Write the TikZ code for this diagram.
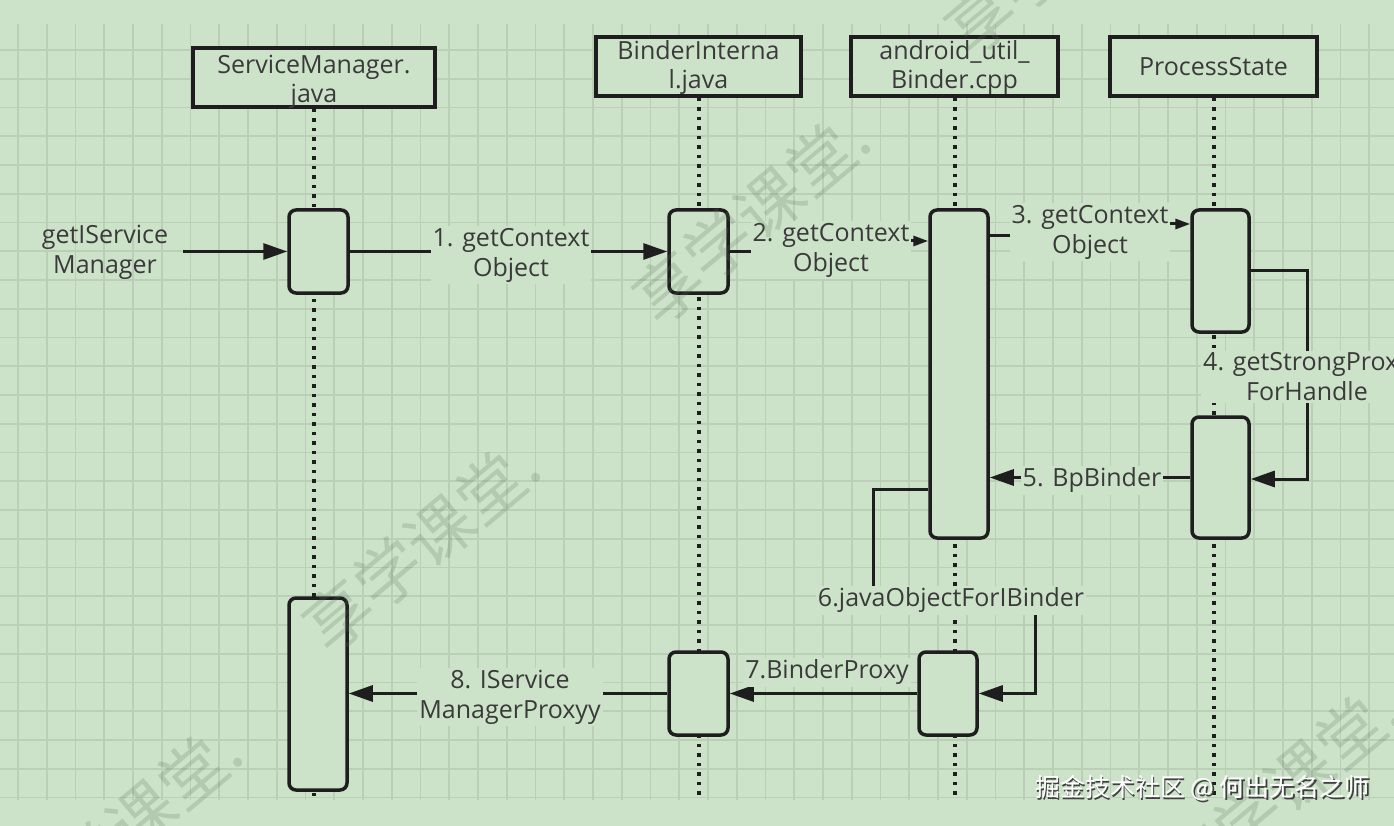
\documentclass[tikz,border=0pt]{standalone}
\usepackage{fontspec}
\setmainfont{Open Sans}
\newfontfamily\cjk{Noto Sans CJK SC}
\usetikzlibrary{arrows.meta,calc}
\definecolor{bg}{RGB}{205,227,201}
\definecolor{gridc}{RGB}{186,207,182}
\definecolor{ink}{RGB}{30,30,30}
\definecolor{txt}{RGB}{58,58,58}
\definecolor{wm}{RGB}{90,110,90}
\begin{document}
\begin{tikzpicture}[x=1pt,y=-1pt,
  hdr/.style={draw=ink,line width=3.5pt,fill=bg,inner sep=0pt},
  act/.style={draw=ink,line width=3.5pt,fill=bg,rounded corners=7pt,inner sep=0pt},
  life/.style={draw=ink,line width=4pt,dash pattern=on 3.5pt off 6pt},
  conn/.style={draw=ink,line width=3pt},
  big/.style={conn,-{Triangle[length=24pt,width=16pt]}},
  small/.style={conn,-{Triangle[length=15pt,width=10pt]}},
  lbl/.style={fill=bg,text=txt,font=\fontsize{25}{30}\selectfont,align=center,inner sep=2pt},
  htxt/.style={text=txt,font=\fontsize{25}{29}\selectfont,align=center,inner sep=0pt},
  wmark/.style={text=wm,text opacity=0.22,font=\cjk\fontsize{66}{66}\selectfont,rotate=40,anchor=west,inner sep=0pt},
  sig/.style={font=\cjk\fontsize{25}{25}\selectfont,inner sep=0pt},
  gline/.style={draw=gridc,line width=1.6pt}
]
\useasboundingbox (0,0) rectangle (1394,826);
\fill[bg] (0,0) rectangle (1394,826);
% grid
\foreach \i in {0,...,47} \draw[gline] ({18+\i*28.75},24) -- ({18+\i*28.75},800);
\foreach \j in {0,...,26} \draw[gline] (0,{50+\j*28.75}) -- (1394,{50+\j*28.75});
\coordinate (bot) at (0,800);
% headers
\node[hdr,minimum width=242pt,minimum height=59pt] (H1) at (314,77.5) {};
\node[hdr,minimum width=205pt,minimum height=59pt] (H2) at (698.5,66.5) {};
\node[hdr,minimum width=207pt,minimum height=59pt] (H3) at (954.5,66.5) {};
\node[hdr,minimum width=207pt,minimum height=59pt] (H4) at (1213.5,66.5) {};
% lifelines
\draw[life] (H1.south) -- (H1.south |- bot);
\draw[life] (H2.south) -- (H2.south |- bot);
\draw[life] (H3.south) -- (H3.south |- bot);
\draw[life] (H4.south) -- (H4.south |- bot);
% header texts
\node[htxt] (T1) at (314,82) {ServiceManager.\\java};
\node[htxt] (T2) at (698.5,68) {BinderInterna\\l.java};
\node[htxt] (T3) at (954.5,68) {android\_util\_\\Binder.cpp};
\node[htxt] (T4) at (1213.5,67) {ProcessState};
% activation boxes
\node[act,minimum width=59pt,minimum height=83pt] (A1) at (318.5,251.5) {};
\node[act,minimum width=59pt,minimum height=83pt] (A2) at (698.5,251.5) {};
\node[act,minimum width=58pt,minimum height=328pt] (A3) at (959,374) {};
\node[act,minimum width=57pt,minimum height=122pt] (A4) at (1220.5,271) {};
\node[act,minimum width=57pt,minimum height=121pt] (A5) at (1220.5,477.5) {};
\node[act,minimum width=58pt,minimum height=192pt] (A6) at (318,694) {};
\node[act,minimum width=59pt,minimum height=83pt] (A7) at (698.5,693.5) {};
\node[act,minimum width=58pt,minimum height=83pt] (A8) at (948,693.5) {};
% coordinates
\coordinate (c0) at (183,251.5);
\coordinate (c2) at (831,241);
\coordinate (c3a) at (1090,236);
\coordinate (c3b) at (1090,224);
\coordinate (c4) at (1307,479);
\coordinate (c6a) at (873,489);
\coordinate (c6b) at (873,600);
\coordinate (c6c) at (1035,600);
\coordinate (c6d) at (1035,693.5);
% connectors
\draw[big] (c0) -- (c0 -| A1.west);
\draw[big] (A1.east) -- (A2.west);
\draw[small] (A2.east) -| (c2) -- (c2 -| A3.west);
\draw[small] (c3a -| A3.east) -- (c3a) -- (c3b) -- (c3b -| A4.west);
\draw[big] (A4.east) -| (c4) -- (c4 -| A5.east);
\draw[big] (A5.west) -- (A5.west -| A3.east);
\draw[big] (c6a -| A3.west) -- (c6a) -- (c6b) -- (c6c) -- (c6d) -- (c6d -| A8.east);
\draw[big] (A8.west) -- (A7.east);
\draw[big] (A7.west) -- (A7.west -| A6.east);
% labels
\node[lbl,fill=none] (L0) at (105,252) {getIService\\Manager};
\node[lbl] (L1) at (511,255) {1. getContext\\Object};
\node[lbl] (L2) at (831,250) {2. getContext\\Object};
\node[lbl] (L3) at (1090,232) {3. getContext\\Object};
\node[lbl] (L4) at (1307,377) {4. getStrongProxy\\ForHandle};
\node[lbl] (L5) at (1092,480) {5. BpBinder};
\node[lbl] (L6) at (951,600) {6.javaObjectForIBinder};
\node[lbl] (L7) at (827,672) {7.BinderProxy};
\node[lbl] (L8) at (510,697) {8. IService\\ManagerProxyy};
% watermarks
\node[wmark] (W1) at (643,309) {享学课堂.};
\node[wmark] (W2) at (313,637) {享学课堂.};
\node[wmark] (W3) at (15,922) {享学课堂.};
\node[wmark] (W4) at (1173,882) {享学课堂.};
\node[wmark] (W5) at (955,40) {享学课堂.};
% signature
\node[sig,text=black!75] (S0) at (1204,790) {掘金技术社区 @ 何出无名之师};
\node[sig,text=white] (S1) at (1202.5,788.5) {掘金技术社区 @ 何出无名之师};
\end{tikzpicture}
\end{document}
